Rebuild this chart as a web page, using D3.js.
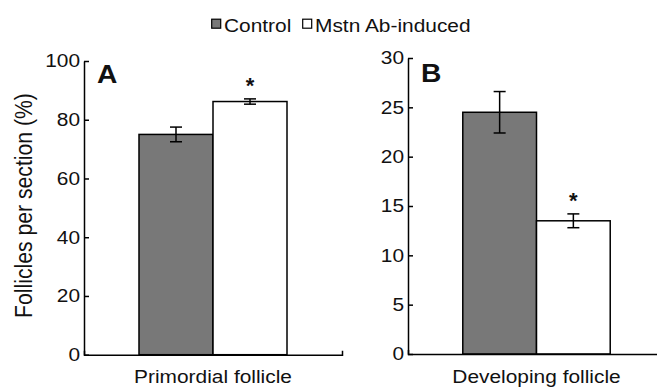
<!DOCTYPE html>
<html><head><meta charset="utf-8">
<script src="https://cdn.jsdelivr.net/npm/d3@7"></script>
<style>
body{margin:0;background:#fff;}
svg{display:block;}
text{font-family:"Liberation Sans",Arial,Helvetica,sans-serif;fill:#111;}
</style></head>
<body>
<svg id="c" width="657" height="387"></svg>
<script>
const series = ["Control", "Mstn Ab-induced"];
const colors = ["#787878", "#ffffff"];
const catA = ["Primordial follicle"];
const valuesA = [75, 86.2];
const errorsA = [2.5, 0.9];
const catB = ["Developing follicle"];
const valuesB = [24.5, 13.5];
const errorsB = [2.1, 0.7];
const ticksA = [0, 20, 40, 60, 80, 100];
const ticksB = [0, 5, 10, 15, 20, 25, 30];
const sig = ["", "*"];

const FS = 18.5, SX = 1.13;
const svg = d3.select("#c");

function panel(opt){
  const g = svg.append("g");
  const x = d3.scaleBand().domain(opt.cats).range(opt.xr).paddingInner(0).paddingOuter(0.3716);
  const x1 = d3.scaleBand().domain(series).range([0, x.bandwidth()]).padding(0);
  const y = d3.scaleLinear().domain(opt.yd).range(opt.yr);
  const rows = series.map((s,i)=>({s, v:opt.vals[i], e:opt.errs[i], i, t:sig[i]}));

  const grp = g.selectAll("g.grp").data(opt.cats).join("g")
    .attr("transform", d => `translate(${x(d)},0)`);
  grp.selectAll("rect").data(rows).join("rect")
    .attr("x", d => x1(d.s)).attr("width", x1.bandwidth())
    .attr("y", d => y(d.v)).attr("height", d => y(0)-y(d.v))
    .attr("fill", d => colors[d.i]).attr("stroke", "#000").attr("stroke-width", 1.5);
  const cx = d => x1(d.s)+x1.bandwidth()/2;
  const cap = 6;
  const eb = grp.selectAll("g.eb").data(rows).join("g").attr("class","eb")
    .attr("stroke","#000").attr("stroke-width",1.5);
  eb.append("line").attr("x1", cx).attr("x2", cx)
    .attr("y1", d=>y(d.v+d.e)).attr("y2", d=>y(d.v-d.e));
  eb.append("line").attr("x1", d=>cx(d)-cap).attr("x2", d=>cx(d)+cap)
    .attr("y1", d=>y(d.v+d.e)).attr("y2", d=>y(d.v+d.e));
  eb.append("line").attr("x1", d=>cx(d)-cap).attr("x2", d=>cx(d)+cap)
    .attr("y1", d=>y(d.v-d.e)).attr("y2", d=>y(d.v-d.e));
  grp.selectAll("text.sig").data(rows).join("text").attr("class","sig")
    .attr("x", cx).attr("y", d=>y(d.v+d.e) - opt.sigOff)
    .attr("text-anchor","middle").attr("font-size", 22).attr("font-weight","bold")
    .text(d=>d.t);

  const ya = g.append("g").attr("transform", `translate(${opt.xr[0]},0)`)
    .call(d3.axisLeft(y).tickValues(opt.ticks).tickSizeInner(-5).tickSizeOuter(0).tickPadding(3.5));
  ya.select(".domain").attr("stroke","#000").attr("stroke-width",1.5);
  ya.selectAll(".tick line").attr("stroke","#000").attr("stroke-width",1.5);
  ya.selectAll(".tick text").attr("font-size", FS).attr("fill","#111")
    .attr("font-family", '"Liberation Sans",Arial,sans-serif')
    .attr("transform", `scale(${SX},1)`);

  const xa = g.append("g").attr("transform", `translate(0,${y(0)})`)
    .call(d3.axisBottom(x).tickSizeInner(0).tickSizeOuter(-4).tickPadding(15.5));
  xa.select(".domain").attr("stroke","#000").attr("stroke-width",1.5);
  xa.selectAll(".tick text").attr("font-size", FS).attr("fill","#111")
    .attr("font-family", '"Liberation Sans",Arial,sans-serif')
    .attr("transform", `scale(${SX},1)`);

  g.append("text").attr("transform", `translate(${opt.xr[0]+13},${opt.letterY}) scale(${SX},1)`)
    .attr("font-size", 25).attr("font-weight","bold").text(opt.letter);
}

panel({cats:catA, vals:valuesA, errs:errorsA, xr:[84,342], yd:[0,100], yr:[354.7,61], ticks:ticksA, letter:"A", letterY:83, sigOff:6});
panel({cats:catB, vals:valuesB, errs:errorsB, xr:[408,665], yd:[0,30], yr:[354,58], ticks:ticksB, letter:"B", letterY:82, sigOff:6});

svg.append("text").attr("transform","translate(31.5,205.5) rotate(-90) scale(1,1.15)")
  .attr("text-anchor","middle").attr("font-size",21.2).text("Follicles per section (%)");

const leg = svg.append("g");
const legX = [211.7, 302.7];
series.forEach((s,i)=>{
  leg.append("rect").attr("x", legX[i]).attr("y", 19.2).attr("width", 9).attr("height", 9)
    .attr("fill", colors[i]).attr("stroke","#000").attr("stroke-width",1.2);
  leg.append("text").attr("transform", `translate(${legX[i]+12.3},31.5) scale(${SX},1)`)
    .attr("font-size", FS).text(s);
});
</script>
</body></html>
